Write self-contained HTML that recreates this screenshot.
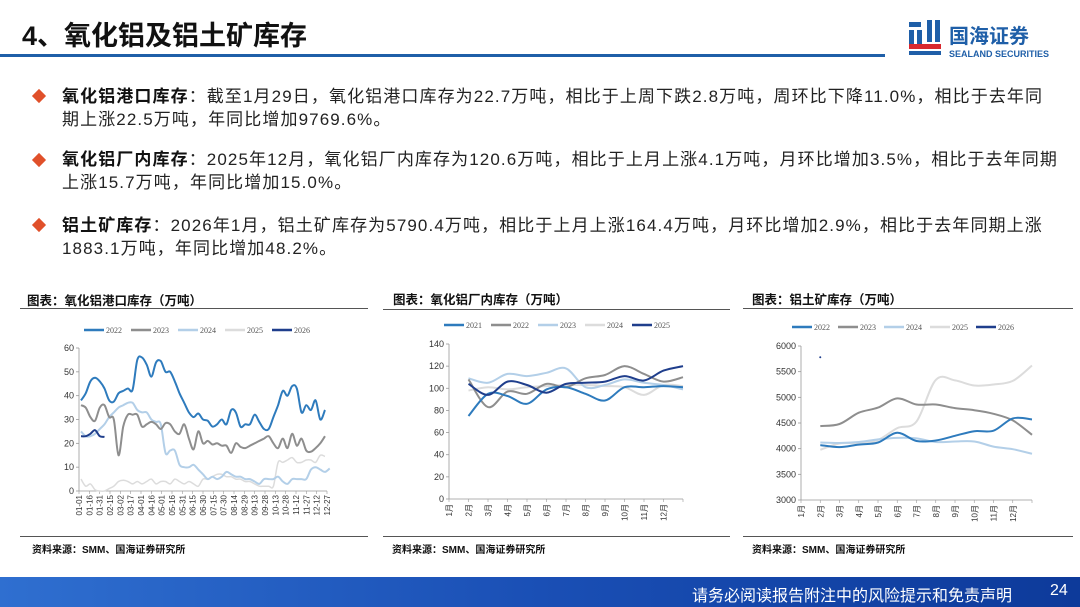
<!DOCTYPE html>
<html><head><meta charset="utf-8">
<style>
*{margin:0;padding:0;box-sizing:border-box}
body{width:1080px;height:607px;background:#fff;position:relative;overflow:hidden;font-family:"Liberation Sans","Noto Sans CJK SC",sans-serif;color:#222}
.t{position:absolute;white-space:nowrap}
.title{left:22px;top:14px;font-size:27px;font-weight:bold;color:#111}
.hline{position:absolute;left:0;top:54px;width:885px;height:3px;background:#1f5fa8}
.p{position:absolute;left:62px;font-size:17px;letter-spacing:1.1px;line-height:22.5px;width:1015px;white-space:nowrap}
.p b{font-weight:bold;color:#111}
.dia{position:absolute;left:34px;width:10px;height:10px;background:#e0502a;transform:rotate(45deg)}
.ct{position:absolute;font-size:12.5px;font-weight:bold;color:#111}
.ul{position:absolute;height:1px;background:#555}
.src{position:absolute;font-size:10px;font-weight:bold;color:#111}
.foot{position:absolute;left:0;top:577px;width:1080px;height:30px;background:linear-gradient(90deg,#2f6fd0,#1a4fb5 50%,#0d3a9a)}
.foot span{position:absolute;color:#fff;font-size:16px;top:5px}
</style></head><body>
<div class="t title">4、氧化铝及铝土矿库存</div>
<div class="hline"></div>
<svg style="position:absolute;left:905px;top:18px" width="170" height="42">
<rect x="4" y="4" width="12" height="5" fill="#1f5fa8"/><rect x="4" y="12" width="5" height="16" fill="#1f5fa8"/><rect x="12" y="12" width="5" height="14" fill="#1f5fa8"/><rect x="22" y="2" width="5" height="22" fill="#1f5fa8"/><rect x="30" y="2" width="5" height="22" fill="#1f5fa8"/>
<rect x="4" y="26" width="32" height="5" fill="#d8282f"/><rect x="4" y="33" width="32" height="4" fill="#1f5fa8"/>
<text x="44" y="25" font-size="20" font-weight="bold" fill="#1f5fa8" font-family="Liberation Sans,Noto Sans CJK SC,sans-serif">国海证券</text>
<text x="44" y="39" font-size="9" font-weight="bold" fill="#1f5fa8" font-family="Liberation Sans,sans-serif">SEALAND SECURITIES</text>
</svg>
<div class="dia" style="top:91px"></div>
<div class="p" style="top:86px"><b>氧化铝港口库存</b>：截至1月29日，氧化铝港口库存为22.7万吨，相比于上周下跌2.8万吨，周环比下降11.0%，相比于去年同<br>期上涨22.5万吨，年同比增加9769.6%。</div>
<div class="dia" style="top:155px"></div>
<div class="p" style="top:149px"><b>氧化铝厂内库存</b>：2025年12月，氧化铝厂内库存为120.6万吨，相比于上月上涨4.1万吨，月环比增加3.5%，相比于去年同期<br>上涨15.7万吨，年同比增加15.0%。</div>
<div class="dia" style="top:220px"></div>
<div class="p" style="top:215px"><b>铝土矿库存</b>：2026年1月，铝土矿库存为5790.4万吨，相比于上月上涨164.4万吨，月环比增加2.9%，相比于去年同期上涨<br>1883.1万吨，年同比增加48.2%。</div>

<div class="ct" style="left:27px;top:290px">图表：氧化铝港口库存（万吨）</div>
<div class="ul" style="left:20px;top:308px;width:348px"></div>
<div class="ct" style="left:393px;top:289px">图表：氧化铝厂内库存（万吨）</div>
<div class="ul" style="left:383px;top:309px;width:347px"></div>
<div class="ct" style="left:752px;top:289px">图表：铝土矿库存（万吨）</div>
<div class="ul" style="left:743px;top:308px;width:330px"></div>
<div class="ul" style="left:20px;top:536px;width:348px"></div>
<div class="ul" style="left:383px;top:536px;width:347px"></div>
<div class="ul" style="left:743px;top:536px;width:330px"></div>
<div class="src" style="left:32px;top:541px">资料来源：SMM、国海证券研究所</div>
<div class="src" style="left:392px;top:541px">资料来源：SMM、国海证券研究所</div>
<div class="src" style="left:752px;top:541px">资料来源：SMM、国海证券研究所</div>

<svg id="g" style="position:absolute;left:0;top:0" width="1080" height="607"></svg>
<div class="foot"><span style="left:692px">请务必阅读报告附注中的风险提示和免责声明</span><span style="left:1050px">24</span></div>
<script>
const NS="http://www.w3.org/2000/svg",g=document.getElementById('g');
function el(t,a,txt){const e=document.createElementNS(NS,t);for(const k in a)e.setAttribute(k,a[k]);if(txt!==undefined)e.textContent=txt;g.appendChild(e);return e}
function smooth(p){let d="M"+p[0][0].toFixed(1)+","+p[0][1].toFixed(1);for(let i=0;i<p.length-1;i++){const p0=p[i-1]||p[i],p1=p[i],p2=p[i+1],p3=p[i+2]||p2;const c1=[p1[0]+(p2[0]-p0[0])/6,p1[1]+(p2[1]-p0[1])/6],c2=[p2[0]-(p3[0]-p1[0])/6,p2[1]-(p3[1]-p1[1])/6];d+="C"+c1.map(v=>v.toFixed(1))+" "+c2.map(v=>v.toFixed(1))+" "+p2.map(v=>v.toFixed(1))}return d}
const C=["#2e7bbd","#8e8e8e","#b3cfe8","#dcdcdc","#1f3e8c"];
function legend(x,y,names,gap){names.forEach((n,i)=>{const xx=x+i*gap;el('line',{x1:xx,y1:y,x2:xx+20,y2:y,stroke:C[i],'stroke-width':2.5});el('text',{x:xx+22,y:y+3,'font-size':8,'font-family':'Liberation Serif,serif',fill:'#555'},n)})}
function axes(x0,x1,y0,y1,ticks){el('line',{x1:x0,y1:y0,x2:x0,y2:y1,stroke:'#999','stroke-width':0.8});el('line',{x1:x0,y1:y0,x2:x1,y2:y0,stroke:'#999','stroke-width':0.8});ticks.forEach(t=>{const y=y0-(t.v)*(y0-y1);el('line',{x1:x0-3,y1:y,x2:x0,y2:y,stroke:'#999','stroke-width':0.8});el('text',{x:x0-5,y:y+3,'font-size':9,'text-anchor':'end',fill:'#333','font-family':'Liberation Sans,sans-serif'},t.l)})}
function xlab(x,y,t){el('text',{x:0,y:0,'font-size':8,fill:'#333','text-anchor':'end',transform:`translate(${x+3},${y}) rotate(-90)`,'font-family':'Liberation Sans,Noto Sans CJK SC,sans-serif'},t)}
(function(){const x0=79,x1=327,y0=491,y1=348;axes(x0,x1,y0,y1,[0,10,20,30,40,50,60].map(v=>({v:v/60,l:v})));
legend(84,330,["2022","2023","2024","2025","2026"],47);
const L="01-01 01-16 01-31 02-15 03-02 03-17 04-01 04-16 05-01 05-16 05-31 06-15 06-30 07-15 07-30 08-14 08-29 09-13 09-28 10-13 10-28 11-12 11-27 12-12 12-27".split(" ");
L.forEach((t,i)=>{const x=x0+i*(x1-x0)/24;el('line',{x1:x,y1:y0,x2:x,y2:y0+3,stroke:'#999','stroke-width':0.6});xlab(x,y0+4,t)});
const S=[[38,41,46,47.5,46,43,38,37.5,41,42,43,42.5,55,56,53,48,54,54.5,50,50,46,41,37,33,31,32.5,30,29.5,27,28,30,28,34,33,27,28,28,32,29,26,26,31,36,42,40,44,43,33,36,34,38,30,34],
[36,35,31,29.5,35,36,31,30,15,27,32,32,32,27,28,29,28,26,28.5,28,25,24,28,22,17.5,25,20,21,19.5,20,19,19,16,20,18.5,18,19,20,21,22,23,20,18,22,18,24,19,22,17,16.5,18,20,23],
[25,23,23,24,26,28,31,33,35,36,37,37,34,33,33,30,29,28,16,17,17,11,10,10,11,9,7,5,6,5,6,8,7,6,6,5,5,4,3,5,5,5,6,4,3,5,5,5,5,9,10,9,8,9.5],
[5,2,3,0.5,0,0,1,2,4,4.5,4,3,4,3,4,5,3,4,4,3,5,4,3,4,3,2,5,5,6,7,7,6,6,5,5,4,4,3,2,2,2,2,12,12,13,14,12,12,13,13,12,15,14.5],
[23,23,24,25.5,23,22.7]];
[3,2,1,0,4].forEach(k=>{const s=S[k],n=52;const p=s.map((v,i)=>[x0+2+i*(x1-x0-4)/n,y0-v*(y0-y1)/60]);el('path',{d:smooth(p),fill:'none',stroke:C[k],'stroke-width':k==3?1.5:2})});})();
(function(){const x0=449,x1=683,y0=499,y1=344;axes(x0,x1,y0,y1,[0,20,40,60,80,100,120,140].map(v=>({v:v/140,l:v})));
legend(444,325,["2021","2022","2023","2024","2025"],47);
const dx=(x1-x0)/12;for(let m=0;m<=12;m++){const x=x0+m*dx;el('line',{x1:x,y1:y0,x2:x,y2:y0+3,stroke:'#999','stroke-width':0.6});if(m<12)xlab(x,y0+5,(m+1)+"月")}
const S=[[75,95,93,86,99,101,95,89,101,101,102,101],[108,83,97,95,104,101,109,112,120,113,106,110],[109,105,113,111,114,118,101,103,108,105,103,99],[98,101,99,101,102,103,103,102,101,94,103,102],[104,94,106,103,96,104,105,106,111,107,116,120]];
[3,2,1,0,4].forEach(k=>{const p=S[k].map((v,i)=>[x0+(i+1)*dx,y0-v*(y0-y1)/140]);el('path',{d:smooth(p),fill:'none',stroke:C[k],'stroke-width':2})});})();
(function(){const x0=801,x1=1032,y0=500,y1=346;axes(x0,x1,y0,y1,[3000,3500,4000,4500,5000,5500,6000].map(v=>({v:(v-3000)/3000,l:v})));
legend(792,327,["2022","2023","2024","2025","2026"],46);
const dx=(x1-x0)/12;for(let m=0;m<=12;m++){const x=x0+m*dx;el('line',{x1:x,y1:y0,x2:x,y2:y0+3,stroke:'#999','stroke-width':0.6});if(m<12)xlab(x,y0+5,(m+1)+"月")}
const S=[[4070,4030,4080,4120,4310,4150,4160,4250,4340,4350,4590,4570],[4440,4480,4700,4800,4980,4860,4860,4790,4750,4680,4550,4270],[4120,4110,4130,4180,4210,4200,4130,4140,4140,4040,3990,3900],[3980,4100,4110,4170,4400,4530,5340,5330,5230,5250,5320,5620]];
[3,2,1,0].forEach(k=>{const p=S[k].map((v,i)=>[x0+(i+1)*dx,y0-(v-3000)*(y0-y1)/3000]);el('path',{d:smooth(p),fill:'none',stroke:C[k],'stroke-width':2})});
el('circle',{cx:x0+dx,cy:y0-2780*(y0-y1)/3000,r:1,fill:'#1f3e8c'});})();
</script>
</body></html>
